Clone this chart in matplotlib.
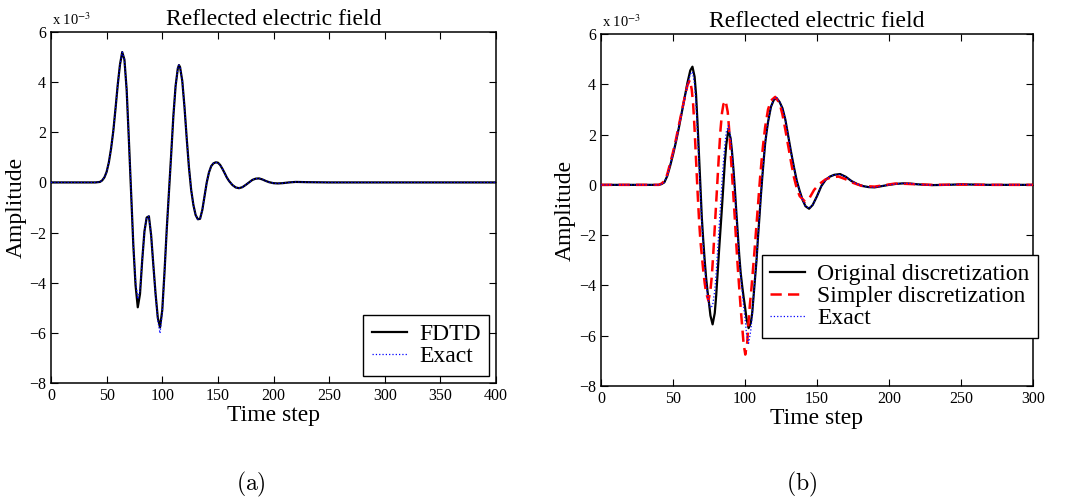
import matplotlib
matplotlib.use('Agg')
import matplotlib.pyplot as plt

plt.rcParams['font.family'] = ['Liberation Serif', 'DejaVu Serif']
plt.rcParams['mathtext.fontset'] = 'stix'
plt.rcParams['axes.unicode_minus'] = True

# ---------------- data (amplitudes in units of 1e-3) ----------------
# panel (a)
t_a = [0, 40, 44, 46, 48, 50, 52, 54, 56, 58, 60, 62, 64, 66, 68, 70, 72, 74, 76, 78,
       80, 82, 84, 86, 88, 90, 92, 94, 96, 98, 100, 102, 104, 106, 108, 110, 112, 114,
       115, 116, 118, 120, 122, 124, 126, 128, 130, 132, 134, 136, 138, 140, 142, 144,
       146, 148, 150, 152, 154, 156, 158, 160, 163, 166, 169, 172, 175, 178, 181, 184,
       187, 190, 193, 196, 200, 204, 208, 214, 220, 230, 250, 400]
fdtd_a = [0, 0, 0.02, 0.08, 0.2, 0.42, 0.8, 1.35, 2.05, 2.95, 3.9, 4.7, 5.2, 4.9, 3.7,
          1.7, -0.4, -2.5, -4.1, -4.98, -4.45, -3.1, -1.95, -1.4, -1.35, -2.1, -3.3,
          -4.45, -5.4, -5.78, -5.1, -3.6, -1.9, -0.4, 1.1, 2.65, 3.85, 4.55, 4.68, 4.6,
          4.05, 3.0, 1.75, 0.6, -0.3, -0.9, -1.3, -1.47, -1.45, -1.1, -0.55, 0.0, 0.4,
          0.65, 0.76, 0.8, 0.79, 0.7, 0.55, 0.38, 0.2, 0.06, -0.1, -0.2, -0.23, -0.19,
          -0.1, 0.0, 0.1, 0.15, 0.16, 0.12, 0.06, 0.01, -0.03, -0.04, -0.03, 0.0, 0.02,
          0.01, 0.0, 0.0]
exact_a = [0, 0, 0.02, 0.08, 0.2, 0.42, 0.8, 1.35, 2.05, 2.95, 3.9, 4.7, 5.2, 4.9, 3.7,
           1.7, -0.4, -2.5, -3.95, -4.65, -4.3, -3.1, -1.95, -1.4, -1.35, -2.1, -3.3,
           -4.5, -5.5, -6.02, -5.2, -3.6, -1.9, -0.4, 1.1, 2.65, 3.85, 4.55, 4.68, 4.6,
           4.05, 3.0, 1.75, 0.6, -0.3, -0.9, -1.3, -1.47, -1.45, -1.1, -0.55, 0.0, 0.4,
           0.65, 0.76, 0.8, 0.79, 0.7, 0.55, 0.38, 0.2, 0.06, -0.1, -0.2, -0.23, -0.19,
           -0.1, 0.0, 0.1, 0.15, 0.16, 0.12, 0.06, 0.01, -0.03, -0.04, -0.03, 0.0, 0.02,
           0.01, 0.0, 0.0]

# panel (b)
t_b = [0, 40, 42, 44, 46, 48, 50, 52, 54, 56, 58, 60, 62, 63.5, 65, 66, 67, 68, 69, 70,
       71, 72, 73, 74, 75, 76, 77.5, 79, 80, 81, 82, 83, 84, 85, 86, 87, 88.5, 90, 91,
       92, 93, 94, 95, 96, 97, 98, 99, 100, 101, 102.5, 104, 105, 106, 107, 108, 109,
       110, 111, 112, 113, 114, 115, 116, 118, 120, 122, 124, 126, 128, 130, 132, 134,
       136, 138, 140, 142, 144.5, 147, 150, 153, 156, 159, 162, 166, 170, 174, 178,
       182, 186, 190, 195, 200, 205, 210, 215, 220, 230, 240, 250, 260, 270, 300]
original_b = [0, 0, 0.03, 0.1, 0.35, 0.75, 1.2, 1.7, 2.25, 2.85, 3.45, 4.05, 4.55, 4.7,
              4.3, 3.6, 2.5, 1.25, 0.0, -1.3, -2.2, -3.0, -3.7, -4.25, -4.7, -5.2, -5.55,
              -5.1, -4.4, -3.5, -2.6, -1.75, -0.9, 0.0, 0.9, 1.6, 2.2, 1.85, 1.3, 0.6,
              -0.2, -1.1, -1.95, -2.8, -3.5, -4.0, -4.45, -4.85, -5.3, -5.7, -5.5, -5.1,
              -4.4, -3.7, -3.0, -2.1, -1.3, -0.45, 0.3, 1.0, 1.65, 2.1, 2.5, 3.1, 3.38,
              3.45, 3.3, 3.05, 2.6, 1.95, 1.3, 0.7, 0.15, -0.25, -0.6, -0.85, -0.95, -0.8,
              -0.45, -0.05, 0.2, 0.33, 0.4, 0.43, 0.32, 0.15, 0.03, -0.05, -0.09, -0.1,
              -0.05, 0.0, 0.04, 0.06, 0.05, 0.02, -0.01, 0.0, 0.02, 0.01, 0.0, 0.0]
exact_b = [0, 0, 0.03, 0.1, 0.37, 0.78, 1.23, 1.73, 2.28, 2.85, 3.4, 3.95, 4.4, 4.5,
           4.0, 3.2, 2.1, 0.9, -0.3, -1.5, -2.4, -3.2, -3.9, -4.4, -4.75, -4.9, -4.8,
           -4.2, -3.5, -2.6, -1.7, -0.8, 0.1, 0.9, 1.6, 2.1, 2.35, 1.9, 1.3, 0.6,
           -0.3, -1.2, -2.1, -2.9, -3.6, -4.2, -4.8, -5.3, -5.9, -6.3, -5.8, -5.2,
           -4.4, -3.7, -3.0, -2.1, -1.3, -0.45, 0.3, 1.0, 1.65, 2.1, 2.5, 3.1, 3.4,
           3.47, 3.3, 3.05, 2.6, 1.95, 1.3, 0.7, 0.15, -0.25, -0.6, -0.85, -0.93, -0.8,
           -0.45, -0.05, 0.2, 0.33, 0.4, 0.42, 0.32, 0.15, 0.03, -0.05, -0.09, -0.1,
           -0.05, 0.0, 0.04, 0.06, 0.05, 0.02, -0.01, 0.0, 0.02, 0.01, 0.0, 0.0]
t_simple = [0, 40, 42, 44, 46, 48, 50, 52, 54, 56, 58, 60, 61.7, 63, 64, 65, 66, 67, 68,
            69, 70, 71, 72, 73, 74.6, 76, 77, 78, 79, 80, 81, 82, 83, 84, 85, 86.5, 88,
            89, 90, 91, 92, 93, 94, 95, 96, 97, 98, 99, 100.2, 101.5, 102.5, 103.5,
            104.5, 105.5, 106.5, 107.5, 108.5, 109.5, 110.5, 111.5, 112.5, 114, 116,
            118, 121, 124, 126, 128, 130, 132, 134, 136, 138, 141.8, 145, 148, 152,
            156, 160, 164.9, 170, 175, 181, 190, 197, 204, 212, 220, 230, 250, 270, 300]
simpler_b = [0, 0, 0.05, 0.15, 0.42, 0.85, 1.3, 1.8, 2.35, 2.9, 3.45, 3.95, 4.17, 3.8,
             3.2, 2.2, 1.0, -0.2, -1.3, -2.2, -2.8, -3.4, -3.9, -4.3, -4.6, -4.2, -3.6,
             -2.7, -1.7, -0.7, 0.3, 1.3, 2.2, 2.85, 3.2, 3.35, 2.9, 2.2, 1.3, 0.4, -0.5,
             -1.4, -2.4, -3.3, -4.1, -4.9, -5.6, -6.3, -6.75, -6.3, -5.4, -4.7, -4.1,
             -3.4, -2.7, -1.95, -1.2, -0.45, 0.3, 0.95, 1.55, 2.3, 3.0, 3.35, 3.5, 3.25,
             2.8, 2.2, 1.55, 0.9, 0.3, -0.15, -0.45, -0.67, -0.5, -0.2, 0.05, 0.22, 0.3,
             0.33, 0.22, 0.08, -0.04, -0.07, -0.01, 0.05, 0.04, 0.02, 0.0, 0.01, 0.0, 0.0]

yticks = [-8, -6, -4, -2, 0, 2, 4, 6]
xticks_a = [0, 50, 100, 150, 200, 250, 300, 350, 400]
xticks_b = [0, 50, 100, 150, 200, 250, 300]

# ---------------- figure ----------------
W, H = 1066, 501
fig = plt.figure(figsize=(W / 100, H / 100), dpi=100)
ax1 = fig.add_axes([51 / W, (H - 383) / H, 445 / W, 351 / H])
ax2 = fig.add_axes([601 / W, (H - 386) / H, 432 / W, 352 / H])

lw_black = 1.6
ax1.plot(t_a, fdtd_a, color='black', lw=lw_black, label='FDTD', zorder=2)
ax1.plot(t_a, exact_a, color='blue', lw=0.9, ls=':', label='Exact', zorder=3)

ax2.plot(t_b, original_b, color='black', lw=lw_black, label='Original discretization', zorder=2)
ax2.plot(t_simple, simpler_b, color='red', lw=1.8, ls=(0, (4.5, 2.5)),
         label='Simpler discretization', zorder=3)
ax2.plot(t_b, exact_b, color='blue', lw=0.9, ls=':', label='Exact', zorder=4)

ylab_x = {ax1: (27 - 51) / 445, ax2: (576 - 601) / 432}
for ax, xt in ((ax1, xticks_a), (ax2, xticks_b)):
    ax.set_xlim(xt[0], xt[-1])
    ax.set_ylim(-8, 6)
    ax.set_xticks(xt)
    ax.set_yticks(yticks)
    ax.tick_params(direction='in', top=True, right=True, length=5, width=0.8,
                   labelsize=11.5, pad=3.5)
    for s in ax.spines.values():
        s.set_linewidth(1.1)
    ax.set_title('Reflected electric field', fontsize=17, pad=5)
    ax.set_xlabel('Time step', fontsize=17, labelpad=1)
    ax.set_ylabel('Amplitude', fontsize=17)
    ax.yaxis.set_label_coords(ylab_x[ax], 0.5)
    ax.text(0.003, 1.01, r'x 10$^{-3}$', transform=ax.transAxes, fontsize=10.5,
            ha='left', va='bottom')

leg_kw = dict(borderaxespad=0, fontsize=17, fancybox=False, framealpha=1,
              edgecolor='black', handlelength=1.5, handletextpad=0.5,
              labelspacing=0.02, borderpad=0.36, bbox_transform=fig.transFigure)
leg1 = ax1.legend(loc='lower right', bbox_to_anchor=(489 / W, 1 - 376 / H), **leg_kw)
leg1.get_frame().set_linewidth(1.0)
leg2 = ax2.legend(loc='lower right', bbox_to_anchor=(1038 / W, 1 - 337.7 / H), **leg_kw)
leg2.get_frame().set_linewidth(1.0)

fig.text(251 / W, 1 - 484 / H, r'$\mathrm{(a)}$', math_fontfamily='cm', fontsize=17,
         ha='center', va='center')
fig.text(802 / W, 1 - 484 / H, r'$\mathrm{(b)}$', math_fontfamily='cm', fontsize=17,
         ha='center', va='center')

fig.savefig('out.png', dpi=100)
